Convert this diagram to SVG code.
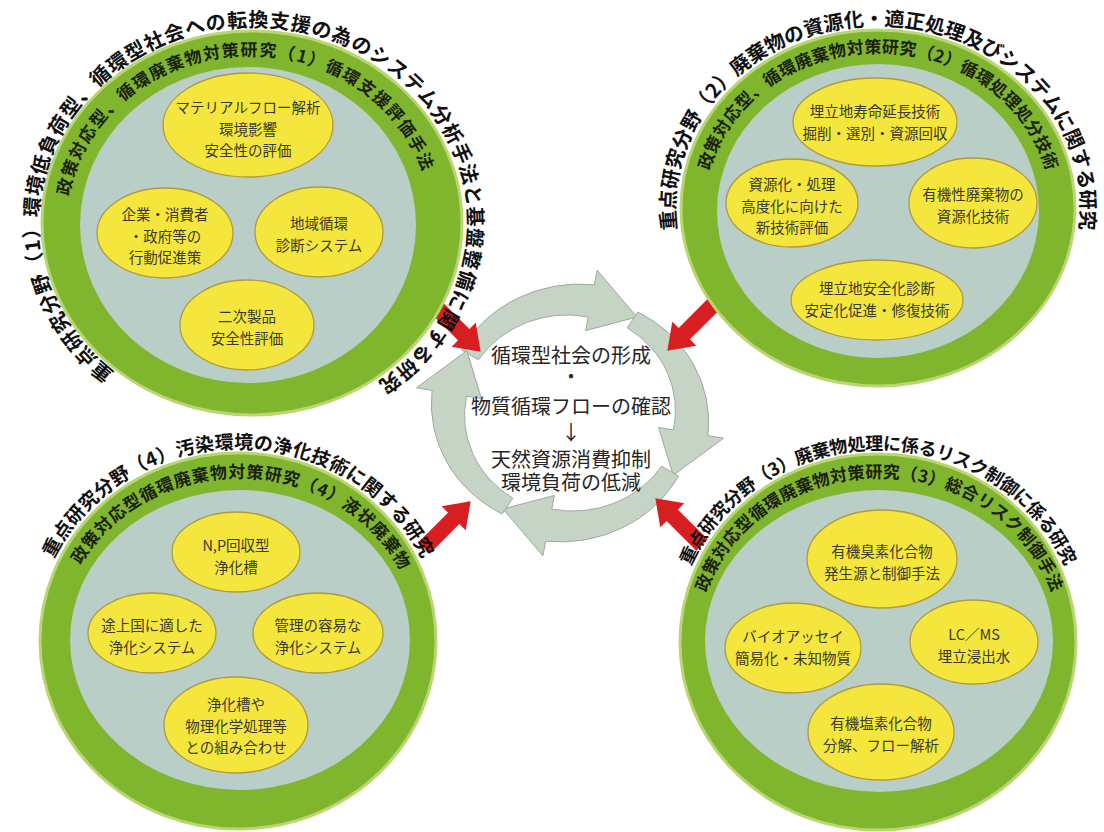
<svg xmlns="http://www.w3.org/2000/svg" width="1104" height="832" viewBox="0 0 1104 832">
<style>
.ring{fill:#80b52e;stroke:#b9d671;stroke-width:3}
.disc{fill:#b8cec6}
.pod{fill:#f4e63c;stroke:#b09a3e;stroke-width:1.3}
.pt{font-family:"Noto Sans CJK JP","Noto Sans CJK SC",sans-serif;font-size:14.5px;fill:#3b3a2a;text-anchor:middle}
.ot{font-family:"Noto Sans CJK JP","Noto Sans CJK SC",sans-serif;font-weight:700;fill:#111}
.rt{font-family:"Noto Sans CJK JP","Noto Sans CJK SC",sans-serif;font-weight:700;fill:#1b2110;font-size:17px}
.ct{font-family:"Noto Sans CJK JP","Noto Sans CJK SC",sans-serif;font-size:20px;fill:#262626;text-anchor:middle}
.red{fill:#d71f22}
.cyc{fill:#c6d4c5;stroke:#97a896;stroke-width:1}
</style>
<defs>
<polygon id="redArrow" points="0,-8 42,-8 42,-17 66,0 42,17 42,8 0,8"/>
<path id="cycArrow" d="M -91.6 -57.2 L -108.5 -67.8 A 134 134 0 0 1 24.3 -137.9 L 27.1 -153.6 L 67 -103.2 L 15.6 -88.6 L 18.2 -103.4 A 106 106 0 0 0 -91.6 -57.2 Z"/>
<path id="p1o" d="M 240.8 418.7 A 214 196 0 0 1 259.5 27.1 A 214 196 0 0 1 248.3 419"/>
<path id="p1r" d="M 258.5 391.8 A 181 168 0 0 1 236.4 56.4 A 181 168 0 0 1 264.8 391.4"/>
<path id="p2o" d="M 874.5 390 A 201 182 0 0 1 878 26 A 201 182 0 0 1 881.5 390"/>
<path id="p2r" d="M 875 365 A 172 156 0 0 1 878 53 A 172 156 0 0 1 881 365"/>
<path id="p3o" d="M 234.5 833 A 202 192 0 0 1 238 449 A 202 192 0 0 1 241.5 833"/>
<path id="p3r" d="M 232.8 801.9 A 177 162 0 0 1 242.1 478 A 177 162 0 0 1 239 802"/>
<path id="p4o" d="M 874.5 834 A 202 192 0 0 1 878 450 A 202 192 0 0 1 881.5 834"/>
<path id="p4r" d="M 875.9 804 A 179 163 0 0 1 879 478 A 179 163 0 0 1 882.1 804"/>
</defs>
<rect width="1104" height="832" fill="#ffffff"/>

<g id="connectors">
  <g id="cycle">
    <use href="#cycArrow" class="cyc" transform="translate(570 413) scale(1 0.93) rotate(0)"/>
    <use href="#cycArrow" class="cyc" transform="translate(570 413) scale(1 0.93) rotate(90)"/>
    <use href="#cycArrow" class="cyc" transform="translate(570 413) scale(1 0.93) rotate(180)"/>
    <use href="#cycArrow" class="cyc" transform="translate(570 413) scale(1 0.93) rotate(270)"/>
  </g>
  <use href="#redArrow" class="red" transform="translate(434 305) rotate(45)"/>
  <use href="#redArrow" class="red" transform="translate(714 304) rotate(135)"/>
  <use href="#redArrow" class="red" transform="translate(424 548) rotate(-45)"/>
  <use href="#redArrow" class="red" transform="translate(702 545) rotate(-135)"/>
</g>

<g id="center">
  <text class="ct"><tspan x="571" y="363">循環型社会の形成</tspan><tspan x="571" y="384">・</tspan><tspan x="571" y="414">物質循環フローの確認</tspan><tspan x="571" y="440">↓</tspan><tspan x="571" y="467">天然資源消費抑制</tspan><tspan x="571" y="490">環境負荷の低減</tspan></text>
</g>

<g id="area1">
  <ellipse class="ring" cx="252" cy="223" rx="210" ry="192"/>
  <ellipse class="disc" cx="248" cy="225" rx="168" ry="158"/>
  <text class="rt"><textPath href="#p1r" startOffset="50%" text-anchor="middle" textLength="470" lengthAdjust="spacing">政策対応型、循環廃棄物対策研究（1）循環支援評価手法</textPath></text>
  <text class="ot" font-size="20"><textPath href="#p1o" startOffset="50%" text-anchor="middle" textLength="1010" lengthAdjust="spacing">重点研究分野（1）環境低負荷型、循環型社会への転換支援の為のシステム分析手法と基盤整備に関する研究</textPath></text>
  <g id="a1-flow"><ellipse class="pod" cx="248" cy="125" rx="85" ry="52"/>
    <text class="pt"><tspan x="248" y="113">マテリアルフロー解析</tspan><tspan x="248" y="134.5">環境影響</tspan><tspan x="248" y="156">安全性の評価</tspan></text></g>
  <g id="a1-actors"><ellipse class="pod" cx="165" cy="233" rx="68" ry="45"/>
    <text class="pt"><tspan x="165" y="220">企業・消費者</tspan><tspan x="165" y="241.5">・政府等の</tspan><tspan x="165" y="263">行動促進策</tspan></text></g>
  <g id="a1-region"><ellipse class="pod" cx="319" cy="232" rx="64" ry="45"/>
    <text class="pt"><tspan x="319" y="229">地域循環</tspan><tspan x="319" y="250.5">診断システム</tspan></text></g>
  <g id="a1-secondary"><ellipse class="pod" cx="247" cy="325" rx="67" ry="45"/>
    <text class="pt"><tspan x="247" y="322">二次製品</tspan><tspan x="247" y="343.5">安全性評価</tspan></text></g>
</g>

<g id="area2">
  <ellipse class="ring" cx="878" cy="208" rx="197" ry="178"/>
  <ellipse class="disc" cx="878" cy="211" rx="161" ry="147"/>
  <text class="rt"><textPath href="#p2r" startOffset="50%" text-anchor="middle" textLength="441" lengthAdjust="spacing">政策対応型、循環廃棄物対策研究（2）循環処理処分技術</textPath></text>
  <text class="ot" font-size="20"><textPath href="#p2o" startOffset="50%" text-anchor="middle" textLength="649" lengthAdjust="spacing">重点研究分野（2）廃棄物の資源化・適正処理及びシステムに関する研究</textPath></text>
  <g id="a2-landfill"><ellipse class="pod" cx="875" cy="122" rx="82" ry="44"/>
    <text class="pt"><tspan x="875" y="117">埋立地寿命延長技術</tspan><tspan x="875" y="138.5">掘削・選別・資源回収</tspan></text></g>
  <g id="a2-newtech"><ellipse class="pod" cx="792" cy="203" rx="66" ry="44"/>
    <text class="pt"><tspan x="792" y="190">資源化・処理</tspan><tspan x="792" y="211.5">高度化に向けた</tspan><tspan x="792" y="233">新技術評価</tspan></text></g>
  <g id="a2-organic"><ellipse class="pod" cx="973" cy="203" rx="64" ry="45"/>
    <text class="pt"><tspan x="973" y="200">有機性廃棄物の</tspan><tspan x="973" y="221.5">資源化技術</tspan></text></g>
  <g id="a2-safety"><ellipse class="pod" cx="877" cy="300" rx="86" ry="40"/>
    <text class="pt"><tspan x="877" y="294">埋立地安全化診断</tspan><tspan x="877" y="315.5">安定化促進・修復技術</tspan></text></g>
</g>

<g id="area3">
  <ellipse class="ring" cx="238" cy="641" rx="198" ry="188"/>
  <ellipse class="disc" cx="240" cy="640" rx="170" ry="150"/>
  <text class="rt"><textPath href="#p3r" startOffset="50%" text-anchor="middle" textLength="385" lengthAdjust="spacing">政策対応型循環廃棄物対策研究（4）液状廃棄物</textPath></text>
  <text class="ot" font-size="19"><textPath href="#p3o" startOffset="50%" text-anchor="middle" textLength="452" lengthAdjust="spacing">重点研究分野（4）汚染環境の浄化技術に関する研究</textPath></text>
  <g id="a3-np"><ellipse class="pod" cx="236" cy="552" rx="64" ry="40"/>
    <text class="pt"><tspan x="236" y="551">N,P回収型</tspan><tspan x="236" y="572.5">浄化槽</tspan></text></g>
  <g id="a3-dev"><ellipse class="pod" cx="152" cy="633" rx="64" ry="40"/>
    <text class="pt"><tspan x="152" y="631">途上国に適した</tspan><tspan x="152" y="652.5">浄化システム</tspan></text></g>
  <g id="a3-easy"><ellipse class="pod" cx="318" cy="633" rx="65" ry="40"/>
    <text class="pt"><tspan x="318" y="631">管理の容易な</tspan><tspan x="318" y="652.5">浄化システム</tspan></text></g>
  <g id="a3-combo"><ellipse class="pod" cx="236" cy="725" rx="72" ry="48"/>
    <text class="pt"><tspan x="236" y="710">浄化槽や</tspan><tspan x="236" y="731.5">物理化学処理等</tspan><tspan x="236" y="753">との組み合わせ</tspan></text></g>
</g>

<g id="area4">
  <ellipse class="ring" cx="878" cy="642" rx="198" ry="188"/>
  <ellipse class="disc" cx="879" cy="641" rx="174" ry="151"/>
  <text class="rt"><textPath href="#p4r" startOffset="50%" text-anchor="middle" textLength="442" lengthAdjust="spacing">政策対応型循環廃棄物対策研究（3）総合リスク制御手法</textPath></text>
  <text class="ot" font-size="18"><textPath href="#p4o" startOffset="50%" text-anchor="middle" textLength="466" lengthAdjust="spacing">重点研究分野（3）廃棄物処理に係るリスク制御に係る研究</textPath></text>
  <g id="a4-bromine"><ellipse class="pod" cx="882" cy="559" rx="75" ry="49"/>
    <text class="pt"><tspan x="882" y="557">有機臭素化合物</tspan><tspan x="882" y="578.5">発生源と制御手法</tspan></text></g>
  <g id="a4-bio"><ellipse class="pod" cx="793" cy="648" rx="68" ry="45"/>
    <text class="pt"><tspan x="793" y="642">バイオアッセイ</tspan><tspan x="793" y="663.5">簡易化・未知物質</tspan></text></g>
  <g id="a4-lcms"><ellipse class="pod" cx="974" cy="642" rx="64" ry="42"/>
    <text class="pt"><tspan x="974" y="640">LC／MS</tspan><tspan x="974" y="661.5">埋立浸出水</tspan></text></g>
  <g id="a4-chlorine"><ellipse class="pod" cx="881" cy="732" rx="73" ry="48"/>
    <text class="pt"><tspan x="881" y="729">有機塩素化合物</tspan><tspan x="881" y="750.5">分解、フロー解析</tspan></text></g>
</g>
</svg>
